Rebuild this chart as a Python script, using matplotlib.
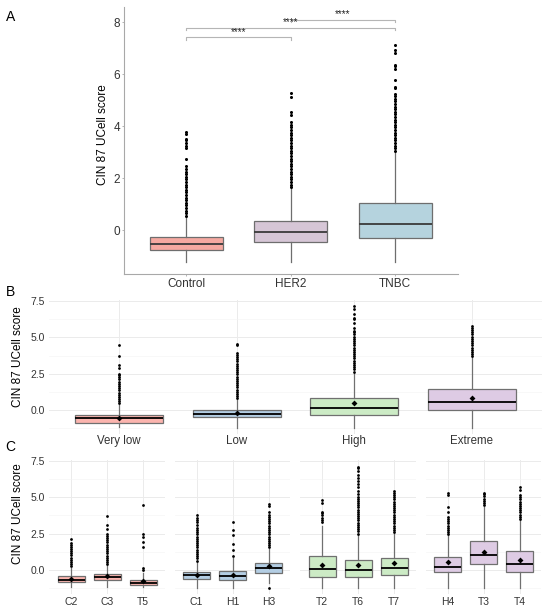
import numpy as np
import matplotlib.pyplot as plt

plt.rcParams['font.family'] = ['Liberation Sans', 'DejaVu Sans']

# ---------------- panel A data ----------------
groups_a = ['Control', 'HER2', 'TNBC']
colors_a = ['#F5A9A1', '#D6C6D6', '#B5D3DE']
q1_a = [-0.77, -0.47, -0.29]
med_a = [-0.53, -0.08, 0.22]
q3_a = [-0.26, 0.35, 1.03]
wlo_a = [-1.24, -1.24, -1.24]
whi_a = [0.50, 1.58, 2.97]
fliers_a = [
    [0.55, 0.65, 0.75, 0.85, 0.95, 1.05, 1.15, 1.25, 1.35, 1.45, 1.55, 1.65,
     1.75, 1.85, 1.95, 2.05, 2.15, 2.25, 2.35, 2.45, 2.75, 3.15, 3.25, 3.35,
     3.45, 3.5, 3.68, 3.78],
    [1.65, 1.75, 1.85, 1.95, 2.05, 2.15, 2.25, 2.35, 2.45, 2.55, 2.65, 2.75,
     2.85, 2.95, 3.05, 3.15, 3.25, 3.35, 3.45, 3.55, 3.65, 3.75, 3.85, 3.95,
     4.05, 4.15, 4.42, 4.55, 5.13, 5.26],
    [3.05, 3.15, 3.25, 3.35, 3.45, 3.55, 3.65, 3.75, 3.85, 3.95, 4.05, 4.15,
     4.25, 4.35, 4.45, 4.55, 4.65, 4.75, 4.85, 4.95, 5.05, 5.15, 5.25, 5.45,
     5.5, 5.77, 6.2, 6.3, 6.35, 6.8, 6.92, 7.12],
]
sig_pairs = [(1, 2), (1, 3), (2, 3)]
sig_y = [7.42, 7.78, 8.10]
sig_text = ['****', '****', '****']

# ---------------- panel B data ----------------
groups_b = ['Very low', 'Low', 'High', 'Extreme']
colors_b = ['#FBB4AE', '#B3CDE3', '#CCEBC5', '#DECBE4']
q1_b = [-0.87, -0.50, -0.34, -0.02]
med_b = [-0.57, -0.27, 0.14, 0.55]
q3_b = [-0.34, 0.00, 0.85, 1.46]
mean_b = [-0.55, -0.23, 0.46, 0.82]
wlo_b = [-1.20, -1.22, -1.24, -1.24]
whi_b = [0.40, 0.75, 2.58, 3.66]
fliers_b = [
    [0.45, 0.6, 0.75, 0.9, 1.05, 1.2, 1.35, 1.5, 1.65, 1.8, 1.95, 2.1, 2.25,
     2.4, 2.47, 2.88, 3.09, 3.73, 4.5],
    [0.8, 0.95, 1.1, 1.25, 1.4, 1.55, 1.7, 1.85, 2.0, 2.15, 2.3, 2.45, 2.6,
     2.75, 2.9, 3.05, 3.2, 3.35, 3.5, 3.65, 3.8, 3.95, 4.46, 4.55],
    [2.65, 2.8, 2.95, 3.1, 3.25, 3.4, 3.55, 3.7, 3.85, 4.0, 4.15, 4.3, 4.45,
     4.6, 4.75, 4.9, 5.05, 5.2, 5.35, 5.44, 5.67, 6.0, 6.24, 6.35, 6.58,
     6.93, 7.16],
    [3.7, 3.85, 4.0, 4.15, 4.3, 4.45, 4.6, 4.75, 4.9, 5.05, 5.2, 5.35, 5.5,
     5.65, 5.79],
]

# ---------------- panel C data ----------------
facets_c = ['Very low', 'Low', 'High', 'Extreme']
samples_c = [['C2', 'C3', 'T5'], ['C1', 'H1', 'H3'],
             ['T2', 'T6', 'T7'], ['H4', 'T3', 'T4']]
q1_c = [[-0.85, -0.71, -1.03], [-0.62, -0.71, -0.20],
        [-0.46, -0.50, -0.35], [-0.16, 0.39, -0.14]]
med_c = [[-0.67, -0.48, -0.87], [-0.35, -0.41, 0.14],
         [0.09, 0.00, 0.14], [0.21, 1.04, 0.41]]
q3_c = [[-0.44, -0.28, -0.69], [-0.12, -0.07, 0.47],
        [0.97, 0.69, 0.83], [0.87, 2.00, 1.29]]
mean_c = [[-0.65, -0.44, -0.78], [-0.32, -0.32, 0.30],
          [0.37, 0.32, 0.48], [0.55, 1.27, 0.71]]
wlo_c = [[-1.20, -1.20, -1.20], [-1.22, -1.22, -0.91],
         [-1.22, -1.24, -1.22], [-1.22, -1.22, -1.24]]
whi_c = [[0.17, 0.36, -0.20], [0.60, 0.85, 1.45],
         [3.05, 2.45, 2.55], [2.40, 4.35, 3.40]]
fliers_c = [
    [[0.25, 0.4, 0.55, 0.7, 0.85, 1.0, 1.15, 1.3, 1.45, 1.6, 1.75, 1.85, 2.13],
     [0.42, 0.55, 0.7, 0.85, 0.95, 1.2, 1.3, 1.45, 1.6, 1.75, 1.9, 2.05, 2.2,
      2.35, 2.45, 2.8, 3.09, 3.73],
     [0.0, 0.11, 1.6, 1.94, 2.29, 2.45, 4.46]],
    [[0.65, 0.8, 0.95, 1.1, 1.25, 1.4, 1.55, 1.7, 1.85, 2.0, 2.15, 2.3, 2.45,
      2.6, 2.75, 2.9, 3.1, 3.3, 3.45, 3.6, 3.78],
     [0.95, 1.38, 1.79, 2.42, 2.78, 3.3],
     [-1.26, 1.55, 1.7, 1.85, 2.0, 2.15, 2.3, 2.45, 2.6, 2.75, 2.9, 3.05,
      3.2, 3.35, 3.5, 3.65, 3.8, 4.0, 4.4, 4.55]],
    [[3.32, 3.45, 3.55, 3.78, 3.9, 4.0, 4.58, 4.8],
     [2.5, 2.65, 2.8, 2.95, 3.1, 3.25, 3.4, 3.55, 3.7, 3.85, 4.0, 4.15, 4.3,
      4.45, 4.6, 4.75, 4.9, 5.0, 5.2, 5.45, 5.7, 5.9, 6.1, 6.3, 6.5, 6.8,
      7.0, 7.1],
     [2.6, 2.75, 2.9, 3.05, 3.2, 3.35, 3.5, 3.65, 3.8, 3.95, 4.1, 4.25, 4.4,
      4.55, 4.7, 4.85, 5.0, 5.15, 5.3, 5.45]],
    [[2.45, 2.6, 2.75, 2.9, 3.05, 3.2, 3.35, 3.5, 3.66, 4.0, 4.35, 5.15, 5.3],
     [4.45, 4.6, 4.75, 4.9, 5.05, 5.2, 5.3],
     [3.5, 3.65, 3.8, 3.95, 4.1, 4.25, 4.4, 4.55, 4.7, 4.85, 5.0, 5.15, 5.5,
      5.72]],
]

W, H = 550, 613
fig = plt.figure(figsize=(W / 100, H / 100), dpi=100)


def px_axes(left, top, right, bottom):
    return fig.add_axes([left / W, 1 - bottom / H, (right - left) / W, (bottom - top) / H])


def make_stats(q1, med, q3, lo, hi, fliers, means=None):
    stats = []
    for i in range(len(q1)):
        d = dict(q1=q1[i], med=med[i], q3=q3[i], whislo=lo[i], whishi=hi[i],
                 fliers=fliers[i])
        if means is not None:
            d['mean'] = means[i]
        stats.append(d)
    return stats


def draw_boxes(ax, stats, colors, width, edge, medc, show_means, fsize):
    bp = ax.bxp(stats, positions=range(1, len(stats) + 1), widths=width,
                patch_artist=True, showcaps=False, showmeans=show_means,
                boxprops=dict(edgecolor=edge, linewidth=0.9),
                whiskerprops=dict(color=edge, linewidth=0.9),
                medianprops=dict(color=medc, linewidth=1.3),
                flierprops=dict(marker='o', markersize=fsize, markerfacecolor='black',
                                markeredgecolor='none'),
                meanprops=dict(marker='D', markersize=3, markerfacecolor='black',
                               markeredgecolor='none'))
    for patch, c in zip(bp['boxes'], colors):
        patch.set_facecolor(c)
    return bp


def minimal_style(ax):
    for s in ax.spines.values():
        s.set_visible(False)
    ax.set_axisbelow(True)
    ax.set_ylim(-1.66, 7.58)
    ax.set_yticks([0, 2.5, 5.0, 7.5])
    ax.set_yticks([-1.25, 1.25, 3.75, 6.25], minor=True)
    ax.grid(True, which='major', color='#ebebeb', linewidth=0.7)
    ax.grid(True, which='minor', axis='y', color='#f3f3f3', linewidth=0.4)
    ax.tick_params(which='both', length=0, labelsize=7.5, colors='#333333')


# ---------------- A ----------------
axA = px_axes(123.5, 7.3, 457.9, 274.0)
axA.patch.set_alpha(0)
draw_boxes(axA, make_stats(q1_a, med_a, q3_a, wlo_a, whi_a, fliers_a),
           colors_a, 0.7, '#6e6e6e', '#3a3a3a', False, 2.2)
axA.set_xlim(0.4, 3.6)
axA.set_ylim(-1.69, 8.57)
axA.set_yticks([0, 2, 4, 6, 8])
axA.set_xticks([1, 2, 3])
axA.set_xticklabels(groups_a)
for s in ['top', 'right']:
    axA.spines[s].set_visible(False)
for s in ['left', 'bottom']:
    axA.spines[s].set_color('#a8a8a8')
    axA.spines[s].set_linewidth(0.8)
axA.tick_params(length=1.5, width=0.6, color='#a8a8a8', labelsize=8.5,
                labelcolor='#333333', pad=1)
axA.tick_params(axis='x', labelsize=8.5, pad=1.5)
for (x1, x2), y, t in zip(sig_pairs, sig_y, sig_text):
    axA.plot([x1, x1, x2, x2], [y - 0.09, y, y, y - 0.09], color='#b5b5b5', lw=0.8)
    axA.text((x1 + x2) / 2, y + 0.01, t, ha='center', va='bottom', fontsize=7,
             color='#222222')

# ---------------- B ----------------
axB = px_axes(48.5, 299.9, 542.4, 434.1)
axB.patch.set_alpha(0)
draw_boxes(axB, make_stats(q1_b, med_b, q3_b, wlo_b, whi_b, fliers_b, mean_b),
           colors_b, 0.75, '#707070', 'black', True, 2.0)
axB.set_xlim(0.4, 4.6)
minimal_style(axB)
axB.set_xticks([1, 2, 3, 4])
axB.set_xticklabels(groups_b)
axB.set_yticklabels(['0.0', '2.5', '5.0', '7.5'])
axB.tick_params(axis='y', pad=2.5)
axB.tick_params(axis='x', labelsize=8.3, pad=0.5)

# ---------------- C ----------------
facet_w, gap = 115.5, 10.0
for k in range(4):
    left = 49.4 + k * (facet_w + gap)
    ax = px_axes(left, 459.6, left + facet_w, 594.2)
    ax.patch.set_alpha(0)
    draw_boxes(ax, make_stats(q1_c[k], med_c[k], q3_c[k], wlo_c[k], whi_c[k],
                              fliers_c[k], mean_c[k]),
               [colors_b[k]] * 3, 0.75, '#707070', 'black', True, 2.0)
    ax.set_xlim(0.4, 3.6)
    minimal_style(ax)
    ax.set_xticks([1, 2, 3])
    ax.set_xticklabels(samples_c[k])
    ax.tick_params(axis='x', pad=2)
    if k == 0:
        ax.set_yticklabels(['0.0', '2.5', '5.0', '7.5'])
        ax.tick_params(axis='y', pad=3)
    else:
        ax.set_yticklabels([])

# ---------------- labels ----------------
def ftext(x, y, s, **kw):
    fig.text(x / W, 1 - y / H, s, ha='center', va='center', **kw)

ftext(10.5, 16.7, 'A', fontsize=10)
ftext(10.5, 291.5, 'B', fontsize=10)
ftext(10.5, 446.7, 'C', fontsize=10)
ftext(103.5, 135, 'CIN 87 UCell score', rotation=90, fontsize=8.5)
ftext(18.3, 357, 'CIN 87 UCell score', rotation=90, fontsize=8.5)
ftext(18.3, 514, 'CIN 87 UCell score', rotation=90, fontsize=8.5)

fig.savefig('out.png', dpi=100)
